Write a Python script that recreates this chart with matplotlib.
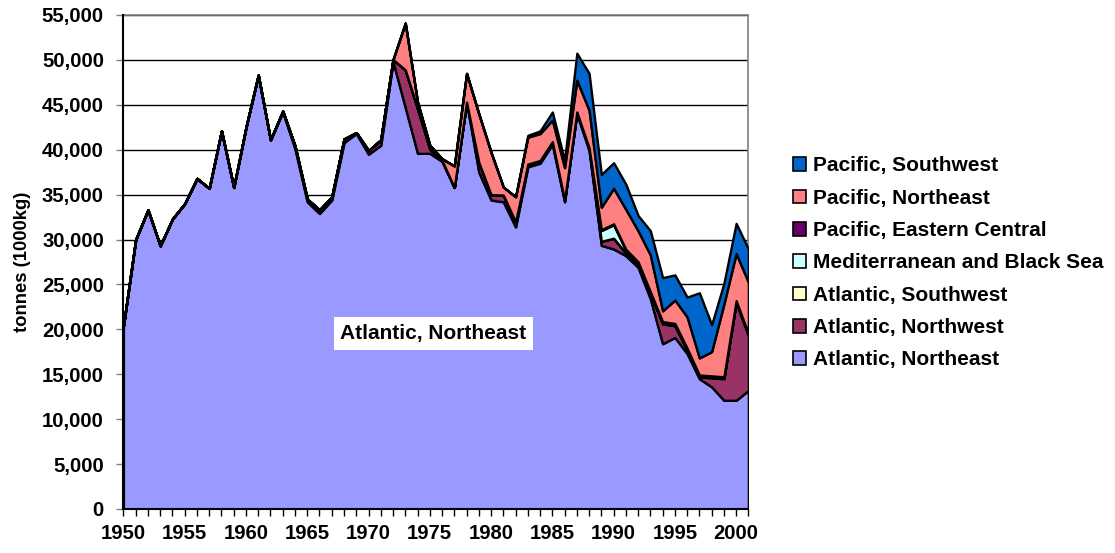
"""
file: plot.py

Stacked area chart of catches by fishing area, 1950-2001.
"""

import numpy as np
import matplotlib
matplotlib.use("Agg")
import matplotlib.pyplot as plt
from matplotlib.patches import Patch
from matplotlib.ticker import FuncFormatter, MultipleLocator

# Years on the x axis
years = list(range(1950, 2002))

# Catches per area (tonnes)
atlantic_ne = [
    20400, 30000, 33300, 29300, 32300, 34000, 36800, 35700, 42100, 35800,
    42500, 48300, 41100, 44200, 40100, 34200, 32900, 34400, 40800, 41800,
    39500, 40500, 49800, 44700, 39600, 39600, 38700, 35800, 45300, 37500,
    34400, 34200, 31400, 38100, 38500, 40600, 34200, 44000, 39900, 29350,
    28950, 28200, 26900, 23400, 18400, 19100, 17300, 14500, 13600, 12100,
    12100, 13200,
]
atlantic_nw = [
    0, 0, 0, 0, 0, 0, 0, 0, 0, 0,
    0, 0, 0, 100, 300, 300, 400, 350, 400, 100,
    400, 600, 250, 4200, 5000, 500, 100, 0, 0, 1100,
    600, 750, 560, 300, 300, 300, 200, 200, 300, 450,
    1200, 260, 370, 560, 2200, 1300, 370, 200, 1000, 2400,
    10900, 6100,
]
atlantic_sw = [0] * 40 + [0, 50, 50, 50, 60, 60, 50, 50, 50, 50, 50, 50]
mediterranean = [0] * 39 + [1200, 1500, 300, 100, 50, 50, 50, 50, 50, 50, 50, 50, 50]
pacific_ec = [0] * 39 + [100, 100, 100, 100, 120, 150, 150, 120, 120, 120, 120, 100, 100]
pacific_ne = [
    0, 0, 0, 0, 0, 0, 0, 0, 0, 0,
    0, 0, 0, 0, 0, 0, 0, 0, 0, 0,
    0, 0, 0, 5200, 700, 400, 200, 2400, 3200, 5400,
    4700, 900, 2800, 3000, 3000, 2400, 3600, 3550, 4200, 2500,
    3950, 4450, 3450, 4100, 1200, 2600, 3500, 1900, 2700, 8100,
    5250, 5750,
]
pacific_sw = [
    0, 0, 0, 0, 0, 0, 0, 0, 0, 0,
    0, 0, 0, 0, 0, 0, 0, 0, 0, 0,
    0, 0, 0, 0, 0, 0, 0, 0, 0, 0,
    0, 0, 0, 200, 300, 900, 800, 3000, 4100, 3650,
    2850, 2800, 1700, 2700, 3700, 2800, 2200, 7250, 3000, 2300,
    3350, 3700,
]

series_names = [
    "Atlantic, Northeast",
    "Atlantic, Northwest",
    "Atlantic, Southwest",
    "Mediterranean and Black Sea",
    "Pacific, Eastern Central",
    "Pacific, Northeast",
    "Pacific, Southwest",
]
series_colors = ["#9999FF", "#993366", "#FFFFCC", "#CCFFFF", "#660066", "#FF8080", "#0066CC"]

font_main = ["Liberation Sans", "DejaVu Sans"]

fig = plt.figure(figsize=(11.15, 5.53), dpi=100)
ax = fig.add_axes([0.1107, 0.0796, 0.5605, 0.8933])

ax.stackplot(
    years,
    atlantic_ne, atlantic_nw, atlantic_sw, mediterranean,
    pacific_ec, pacific_ne, pacific_sw,
    colors=series_colors,
    edgecolor="black",
    linewidth=1.7,
    zorder=3,
)

# Axis ranges and grid
ax.set_xlim(1950, 2001)
ax.set_ylim(0, 55000)
ax.yaxis.set_major_locator(MultipleLocator(5000))
ax.xaxis.set_major_locator(MultipleLocator(5))
ax.xaxis.set_minor_locator(MultipleLocator(1))
ax.grid(axis="y", color="black", linewidth=1.0, zorder=0)
ax.set_axisbelow(True)

ax.yaxis.set_major_formatter(FuncFormatter(lambda v, _: f"{int(v):,}"))

for side in ("top", "right"):
    ax.spines[side].set_color("#808080")
    ax.spines[side].set_linewidth(1.2)
for side in ("left", "bottom"):
    ax.spines[side].set_color("black")
    ax.spines[side].set_linewidth(1.5)
    ax.spines[side].set_zorder(5)

ax.tick_params(axis="y", direction="out", length=5, width=1, color="#808080", pad=9)
ax.tick_params(axis="x", which="both", direction="out", length=5, width=1, color="black", pad=6)

for lab in ax.get_yticklabels():
    lab.set_family(font_main)
    lab.set_fontweight("bold")
    lab.set_fontsize(14.6)
for lab in ax.get_xticklabels():
    lab.set_family(font_main)
    lab.set_fontweight("bold")
    lab.set_fontsize(14.6)

ax.set_ylabel("tonnes (1000kg)", family=font_main, fontweight="bold", fontsize=13.3, labelpad=8)

# Data label inside the big area
ax.text(
    1975.3, 19500, "Atlantic, Northeast",
    family=font_main, fontweight="bold", fontsize=15,
    ha="center", va="center", zorder=6,
    bbox=dict(facecolor="white", edgecolor="none", pad=5),
)

# Legend, topmost series first
handles = [
    Patch(facecolor=c, edgecolor="black", linewidth=1.2, label=n)
    for n, c in zip(series_names, series_colors)
][::-1]
fig.legend(
    handles=handles,
    loc="upper left",
    bbox_to_anchor=(0.711, 0.717),
    frameon=False,
    prop={"family": font_main, "weight": "bold", "size": 15},
    handlelength=0.62,
    handleheight=0.62,
    handletextpad=0.35,
    labelspacing=0.64,
    borderpad=0,
    borderaxespad=0,
)

fig.savefig("out.png", dpi=100)
